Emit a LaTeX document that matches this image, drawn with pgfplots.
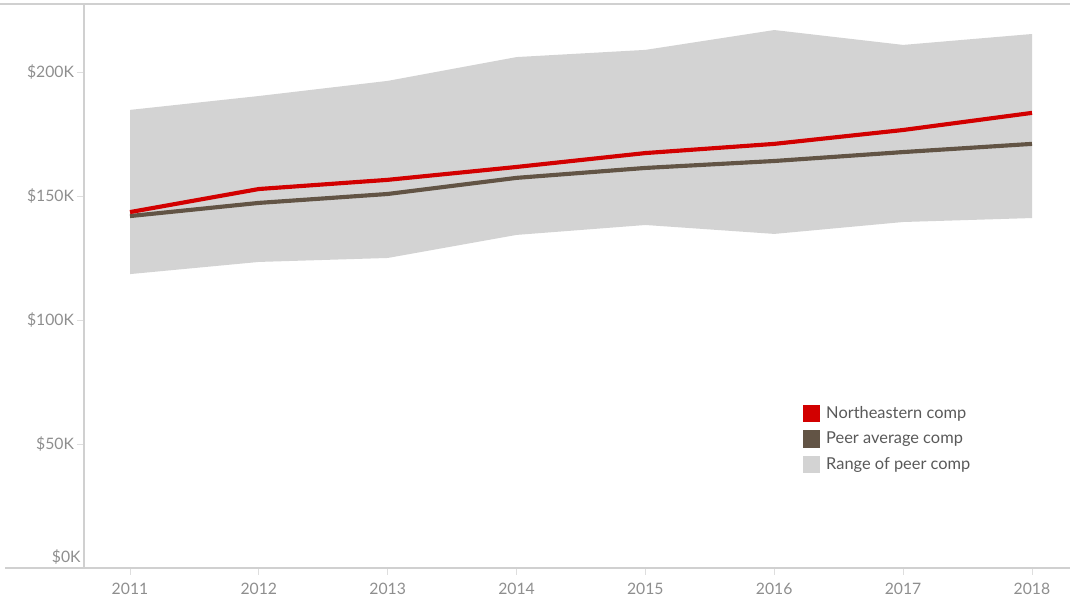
\documentclass[border=0pt]{standalone}
\usepackage{fontspec}
\setmainfont{Lato}
\usepackage{pgfplots}
\pgfplotsset{compat=1.18}
\definecolor{nured}{HTML}{D20000}
\definecolor{peerbrown}{HTML}{625445}
\definecolor{bandgray}{HTML}{D3D3D3}
\definecolor{labgray}{HTML}{8E8E8E}
\definecolor{linegray}{HTML}{D0D0D0}
\begin{document}
\begin{tikzpicture}[x=0.75pt,y=0.75pt]
\useasboundingbox (0,0) rectangle (1070,600);
\draw[linegray, line width=0.9pt] (0,596) -- (1070,596);
\draw[linegray, line width=0.9pt] (5,32) -- (84,32);
\begin{axis}[
  at={(63pt,24pt)}, anchor=origin,
  scale only axis, width=739.5pt, height=423pt,
  xmin=2010.643, xmax=2018.295,
  ymin=0, ymax=227.4,
  axis lines*=left,
  axis line style={draw=linegray, line width=0.9pt},
  xtick={2011,...,2018},
  ytick={50,100,150,200},
  yticklabels={\$50K,\$100K,\$150K,\$200K},
  extra y ticks={0},
  extra y tick labels={\$0K},
  extra y tick style={yticklabel style={yshift=8pt}, major tick length=0pt},
  tick align=outside,
  major tick length=5pt,
  tick style={draw=linegray!70, line width=0.6pt},
  /pgf/number format/assume math mode=true,
  /pgf/number format/1000 sep={},
  ticklabel style={font=\fontsize{11.8}{13}\selectfont, text=labgray},
  xticklabel style={yshift=-3pt},
  yticklabel style={xshift=1pt},
  legend style={at={(0.7245,0.296)}, anchor=north west, draw=none, fill=none,
    font=\fontsize{12.3}{14}\selectfont, text=black!65, row sep=4.6pt,
    legend cell align=left, nodes={inner xsep=4.5pt}},
  legend image code/.code={\fill[#1, draw=none] (0pt,-6.6pt) rectangle (13.2pt,6.6pt);},
]
\addplot[fill=bandgray, draw=none, forget plot] coordinates {
(2011,184.7) (2012,190.3) (2013,196.4) (2014,206.0) (2015,208.9) (2016,216.9) (2017,210.9) (2018,215.3)
(2018,141.1) (2017,139.5) (2016,134.7) (2015,138.3) (2014,134.3) (2013,125.0) (2012,123.4) (2011,118.5)
} -- cycle;
\addplot[peerbrown, line width=3.1pt, forget plot] coordinates {
(2011,141.9) (2012,147.2) (2013,150.8) (2014,157.3) (2015,161.3) (2016,164.1) (2017,167.7) (2018,171.0)
};
\addplot[nured, line width=3.1pt, forget plot] coordinates {
(2011,143.5) (2012,152.8) (2013,156.5) (2014,161.7) (2015,167.3) (2016,171.0) (2017,176.6) (2018,183.5)
};
\addlegendimage{fill=nured}
\addlegendentry{Northeastern comp}
\addlegendimage{fill=peerbrown}
\addlegendentry{Peer average comp}
\addlegendimage{fill=bandgray}
\addlegendentry{Range of peer comp}
\end{axis}
\end{tikzpicture}
\end{document}
